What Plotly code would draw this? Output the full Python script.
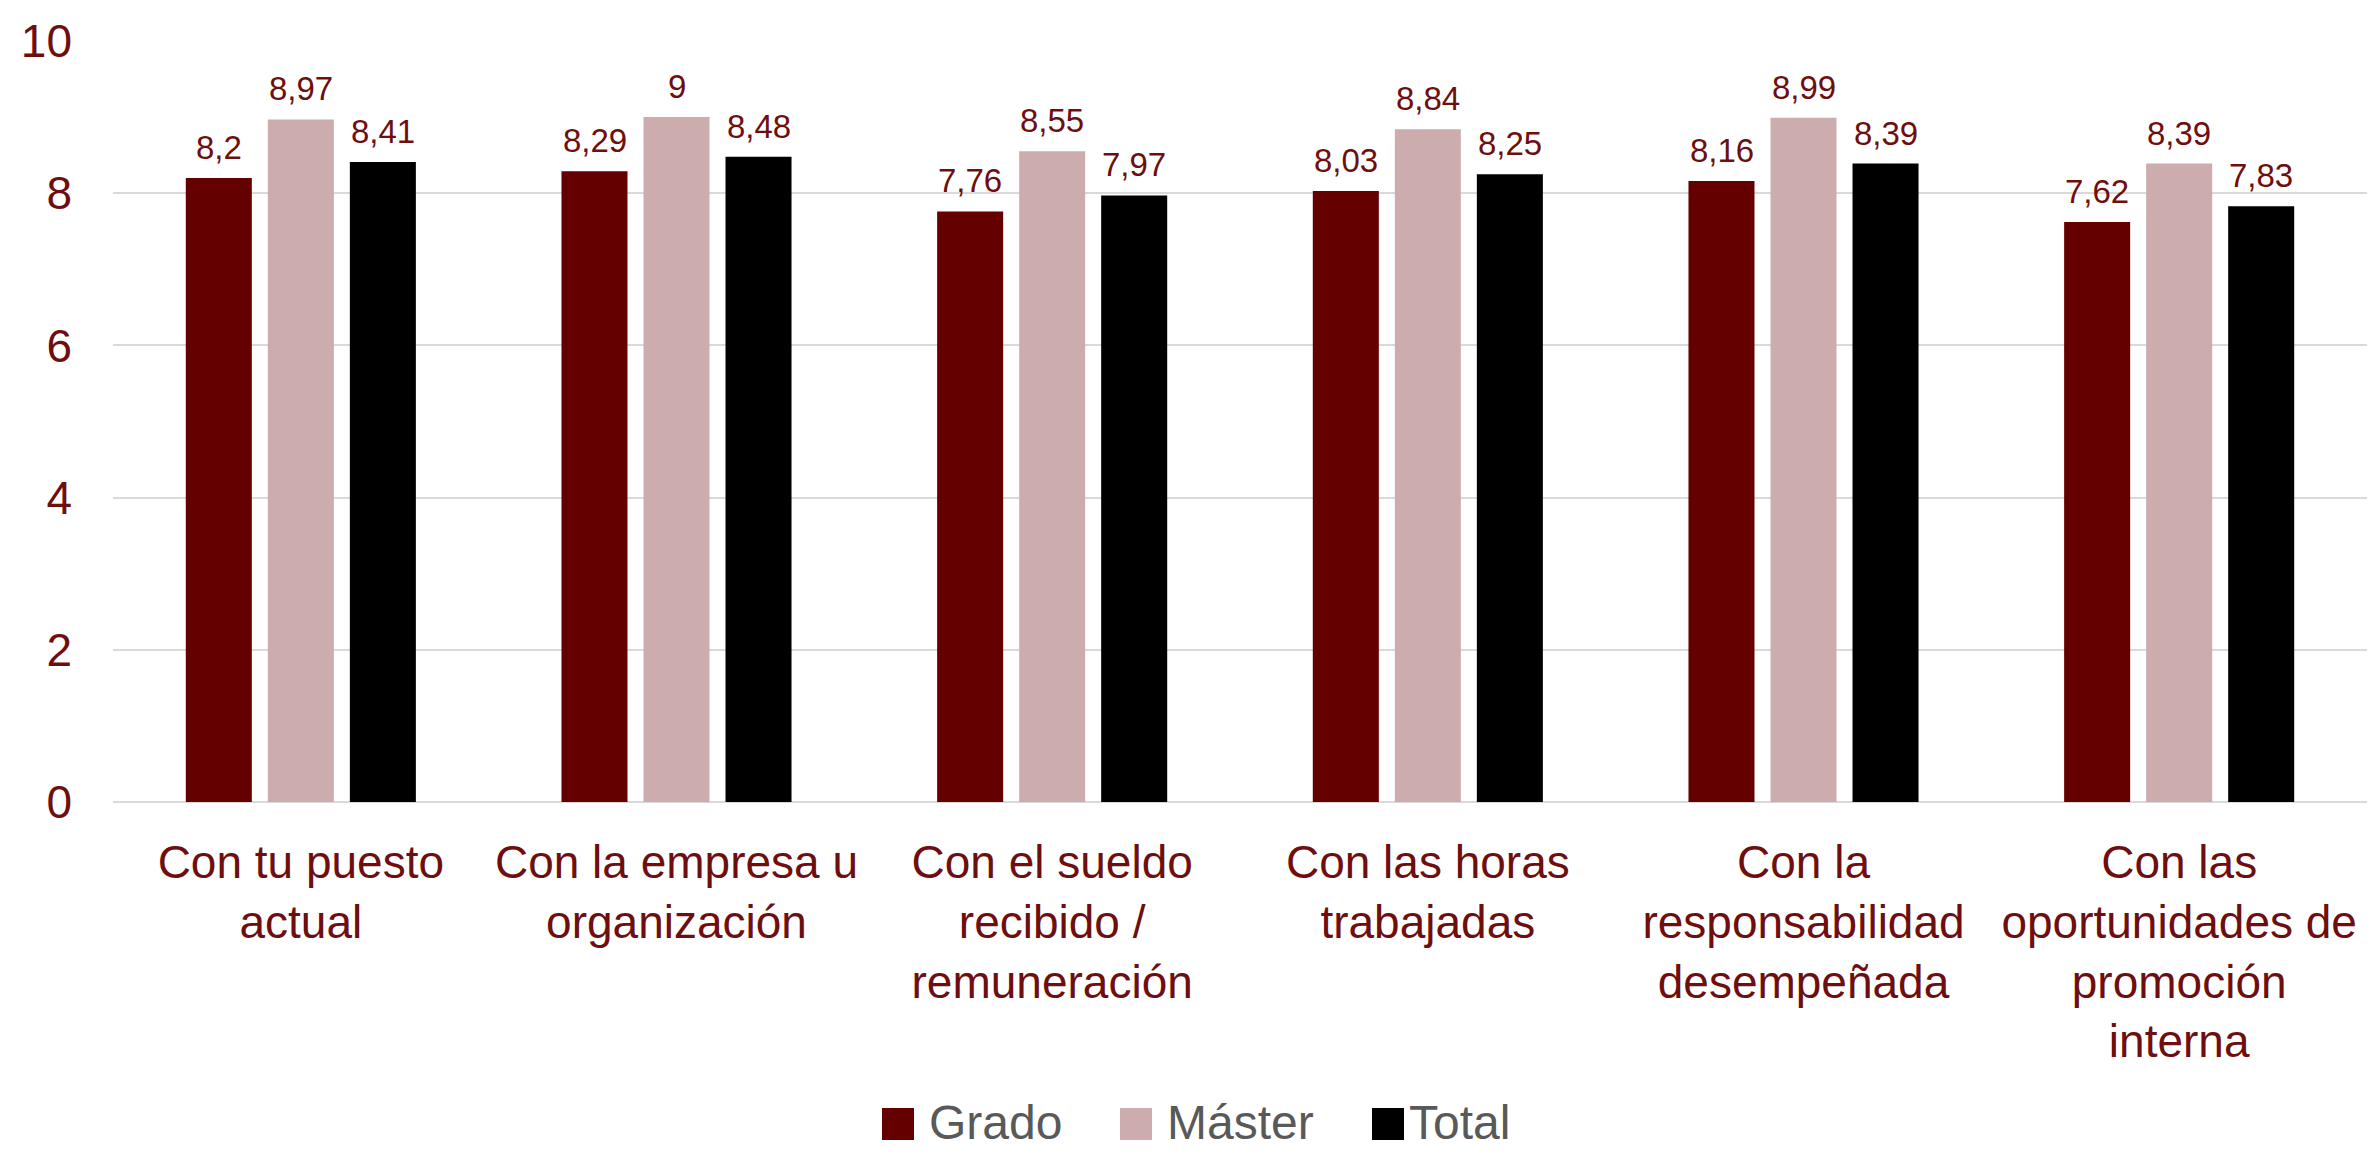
import plotly.graph_objects as go

# Satisfaction scores (0-10) by aspect of the current job
categories = [
    "Con tu puesto<br>actual",
    "Con la empresa u<br>organización",
    "Con el sueldo<br>recibido /<br>remuneración",
    "Con las horas<br>trabajadas",
    "Con la<br>responsabilidad<br>desempeñada",
    "Con las<br>oportunidades de<br>promoción<br>interna",
]
series_names = ["Grado", "Máster", "Total"]
grado = [8.2, 8.29, 7.76, 8.03, 8.16, 7.62]
master = [8.97, 9, 8.55, 8.84, 8.99, 8.39]
total = [8.41, 8.48, 7.97, 8.25, 8.39, 7.83]
y_ticks = [0, 2, 4, 6, 8, 10]

colors = ["#650000", "#CDACAE", "#000000"]
text_red = "#6E0E0E"
font_family = "Liberation Sans, Arial, sans-serif"

W, H = 2370, 1154
L, R, T, B = 113, 3, 41, 352
plot_w = W - L - R
plot_h = H - T - B


def px_x(px):
    return (px - L) / plot_w


def px_y(py):
    return (H - B - py) / plot_h


fig = go.Figure()
values = [grado, master, total]
for name, vals, col in zip(series_names, values, colors):
    fig.add_trace(go.Bar(
        name=name, x=categories, y=vals,
        marker=dict(color=col, line=dict(width=0)),
        showlegend=False,
    ))

# value labels above each bar
slot_px = 82
annotations = []
for i, vals in enumerate(values):
    for cat, v in zip(categories, vals):
        annotations.append(dict(
            x=cat, y=v, xref="x", yref="y",
            text=f"{v:g}".replace(".", ","),
            showarrow=False, xanchor="center", yanchor="bottom",
            xshift=(i - 1) * slot_px, yshift=10,
            font=dict(size=33, color=text_red, family=font_family),
        ))

# legend: coloured squares with labels, centred below the axis
shapes = []
legend_items = [(882, 927), (1120, 1165), (1372, 1407)]
sq = 32
for (sx, tx), name, col in zip(legend_items, series_names, colors):
    shapes.append(dict(
        type="rect", xref="paper", yref="paper",
        x0=px_x(sx), x1=px_x(sx + sq), y0=px_y(1140), y1=px_y(1140 - sq),
        fillcolor=col, line=dict(width=0),
    ))
    annotations.append(dict(
        x=px_x(tx), y=px_y(1122), xref="paper", yref="paper",
        text=name, showarrow=False, xanchor="left", yanchor="middle",
        font=dict(size=48, color="#595959", family=font_family),
    ))

fig.update_layout(
    width=W, height=H,
    margin=dict(l=L, r=R, t=T, b=B, autoexpand=False),
    paper_bgcolor="white", plot_bgcolor="white",
    barmode="group", bargap=0.345, bargroupgap=0.195,
    font=dict(family=font_family, color=text_red),
    annotations=annotations, shapes=shapes,
    showlegend=False,
)
fig.update_yaxes(
    range=[0, 10], tickvals=y_ticks, ticktext=[str(t) for t in y_ticks],
    showgrid=True, gridcolor="#D9D9D9", gridwidth=2,
    zeroline=True, zerolinecolor="#D9D9D9", zerolinewidth=2,
    showline=False, ticks="", ticklabelstandoff=40,
    tickfont=dict(size=46, color=text_red, family=font_family),
)
fig.update_xaxes(
    showgrid=False, showline=False, ticks="",
    tickfont=dict(size=46, color=text_red, family=font_family),
    tickangle=0, ticklabelstandoff=29,
)

fig.write_html("out.html")
